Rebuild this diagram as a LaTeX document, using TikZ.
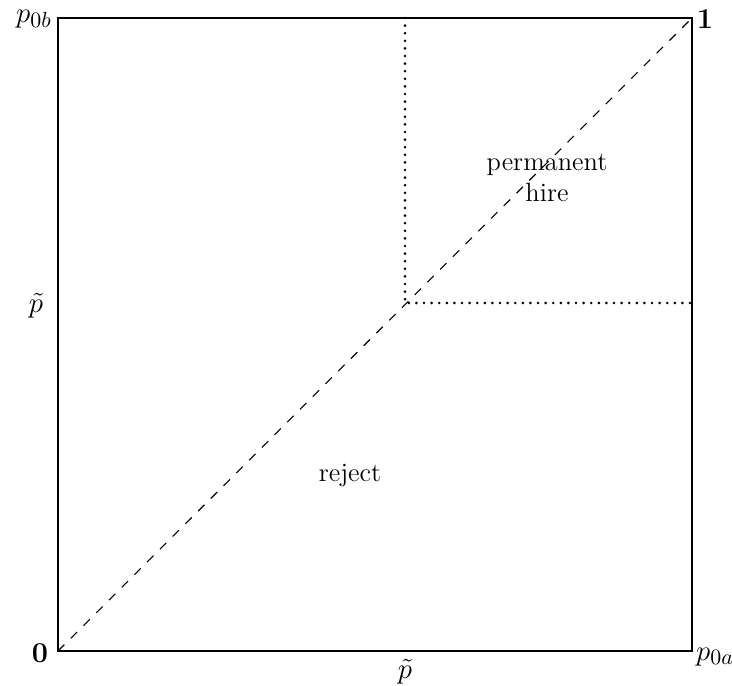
\documentclass[tikz,border=0pt]{standalone}
\begin{document}
\begin{tikzpicture}[x=0.5pt,y=-0.5pt,
  lbl/.style={font=\fontsize{13.2}{15.8}\selectfont, inner sep=0pt},
  mlbl/.style={font=\fontsize{15}{18}\selectfont, inner sep=0pt},
  boxline/.style={line width=1.35pt},
  diag/.style={line width=0.55pt, dash pattern=on 4.5pt off 4.5pt},
  dots/.style={line width=1.45pt, line cap=round, dash pattern=on 0pt off 3.8pt}]
\useasboundingbox (0,0) rectangle (732,685);
\coordinate (O) at (58,651);
\coordinate (A) at (692,651);
\coordinate (B) at (58,18);
\coordinate (C) at (692,18);
\coordinate (M) at (405,303);
\coordinate (T) at (405,18);
\coordinate (R) at (692,303);
\draw[diag] (O) -- (C);
\draw[dots] (T) -- (M) -- (R);
\draw[boxline] (O) -- (A) -- (C) -- (B) -- cycle;
\node[mlbl] (pb) at (34,19) {$p_{0b}$};
\node[mlbl] (one) at (705,19) {$\mathbf{1}$};
\node[mlbl] (pt1) at (36,306) {$\tilde p$};
\node[mlbl] (zero) at (40,653) {$\mathbf{0}$};
\node[mlbl] (pt2) at (405,672) {$\tilde p$};
\node[mlbl] (pa) at (715,657) {$p_{0a}$};
\node[lbl, align=center] (perm) at (547,178) {permanent\\hire};
\node[lbl] (rej) at (350,476) {reject};
\end{tikzpicture}
\end{document}
